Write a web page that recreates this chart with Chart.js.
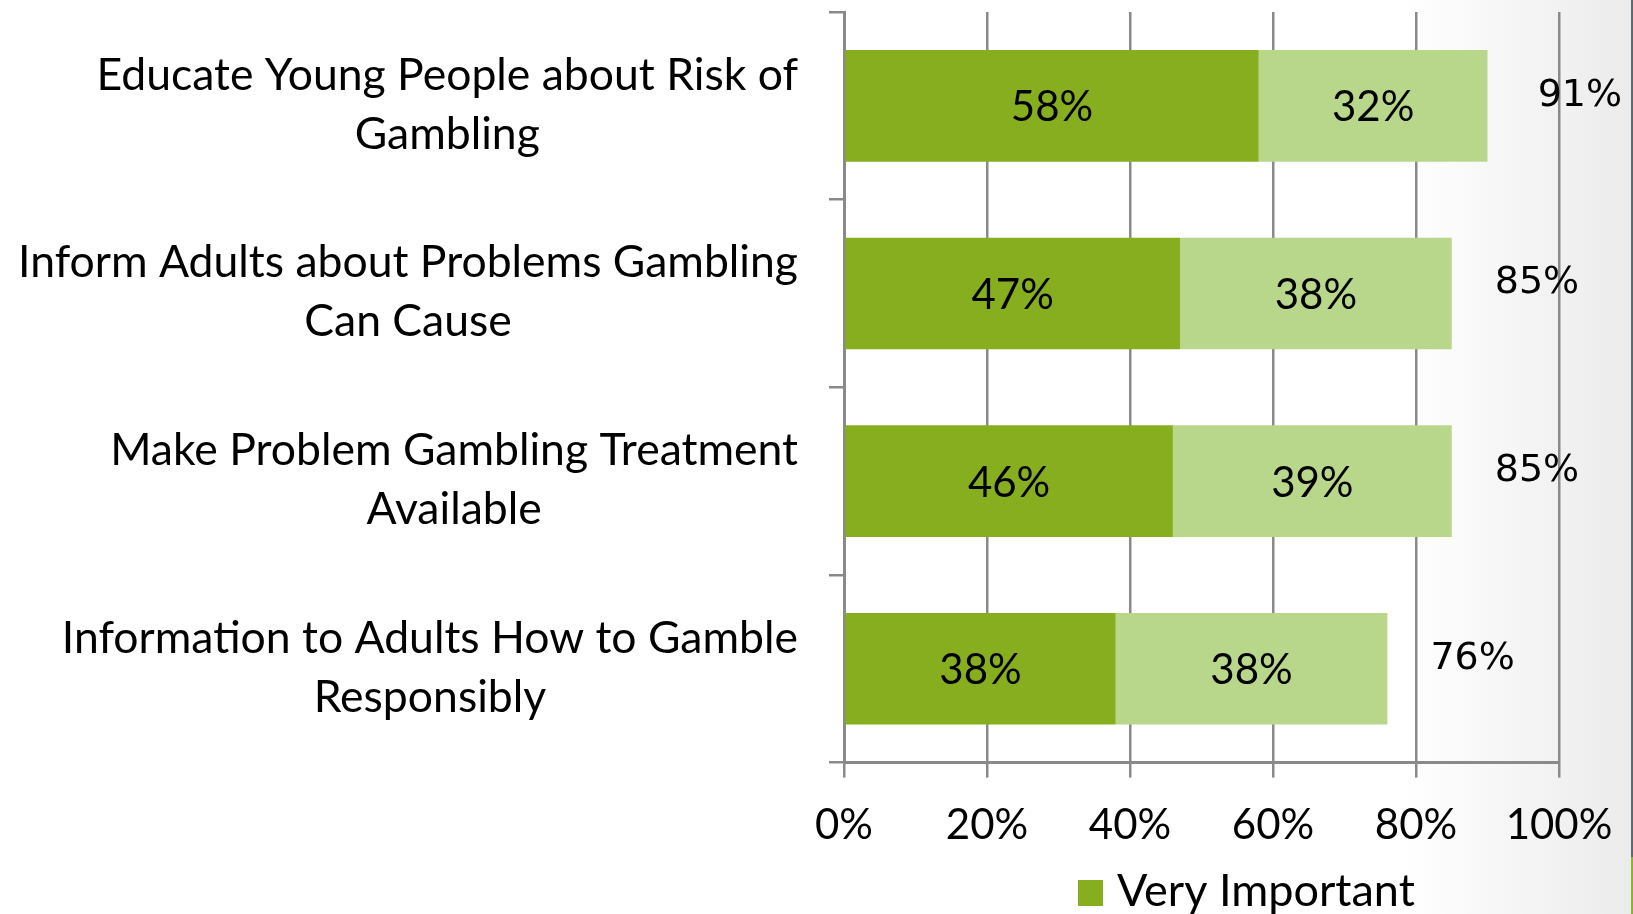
<!DOCTYPE html>
<html>
<head>
<meta charset="utf-8">
<title>Gambling awareness priorities</title>
<script src="https://cdn.jsdelivr.net/npm/chart.js@4.4.1/dist/chart.umd.min.js"></script>
<style>
  html, body { margin: 0; padding: 0; }
  body {
    width: 1633px;
    height: 914px;
    overflow: hidden;
    position: relative;
    background: linear-gradient(to right, #ffffff 0%, #ffffff 86%, #ebebeb 100%);
  }
  .chart-wrap { position: absolute; left: 0; top: 0; width: 1633px; height: 914px; }
  .edge-top { position: absolute; right: 0; top: 0; width: 2px; height: 857px; background: #5d6870; }
  .edge-bottom { position: absolute; right: 0; top: 857px; width: 2px; height: 57px; background: #8cb329; }
</style>
</head>
<body>
<div class="chart-wrap"><canvas id="myChart" width="1633" height="914"></canvas></div>
<div class="edge-top"></div>
<div class="edge-bottom"></div>
<script>
let categories = [
  ['Educate Young People about Risk of', 'Gambling'],
  ['Inform Adults about Problems Gambling', 'Can Cause'],
  ['Make Problem Gambling Treatment', 'Available'],
  ['Information to Adults How to Gamble', 'Responsibly']
];
let seriesNames = ['Very Important', 'Somewhat Important'];
let veryImportant = [58, 47, 46, 38];
let somewhatImportant = [32, 38, 39, 38];
let totals = [91, 85, 85, 76];
let xTicks = [0, 20, 40, 60, 80, 100];

const FONT = 'Lato, "Open Sans", sans-serif';
const GRID = '#8a8a8a';

// two-line category names, block right aligned, lines centred on each other
let categoryLabels = {
  id: 'categoryLabels',
  afterDraw(chart) {
    let ctx = chart.ctx;
    let yScale = chart.scales.y;
    let right = chart.chartArea.left - 46;
    let lineHeight = 59;
    ctx.save();
    ctx.font = '44.5px ' + FONT;
    ctx.fillStyle = '#000';
    ctx.textAlign = 'center';
    ctx.textBaseline = 'middle';
    categories.forEach((lines, i) => {
      let widest = Math.max(...lines.map(l => ctx.measureText(l).width));
      let cx = right - widest / 2;
      let cy = yScale.getPixelForValue(i) - 1;
      lines.forEach((line, j) => {
        ctx.fillText(line, cx, cy + (j - (lines.length - 1) / 2) * lineHeight);
      });
    });
    ctx.restore();
  }
};

let segmentLabels = {
  id: 'segmentLabels',
  afterDatasetsDraw(chart) {
    let ctx = chart.ctx;
    ctx.save();
    ctx.font = '42px ' + FONT;
    ctx.fillStyle = '#000';
    ctx.textAlign = 'center';
    ctx.textBaseline = 'middle';
    chart.data.datasets.forEach((ds, di) => {
      chart.getDatasetMeta(di).data.forEach((bar, i) => {
        let p = bar.getCenterPoint();
        ctx.fillText(ds.data[i] + '%', p.x, p.y + 2);
      });
    });
    ctx.restore();
  }
};

let totalLabels = {
  id: 'totalLabels',
  afterDatasetsDraw(chart) {
    let ctx = chart.ctx;
    let xScale = chart.scales.x;
    let yScale = chart.scales.y;
    ctx.save();
    ctx.font = '38px "DejaVu Sans", sans-serif';
    ctx.fillStyle = '#000';
    ctx.textAlign = 'left';
    ctx.textBaseline = 'middle';
    totals.forEach((t, i) => {
      ctx.fillText(t + '%', xScale.getPixelForValue(t) + 43, yScale.getPixelForValue(i) - 10);
    });
    ctx.restore();
  }
};

let legendBox = {
  id: 'legendBox',
  afterDraw(chart) {
    let ctx = chart.ctx;
    let ds = chart.data.datasets[0];
    ctx.save();
    ctx.fillStyle = ds.backgroundColor;
    ctx.fillRect(1078, 880, 25, 26);
    ctx.font = '45px ' + FONT;
    ctx.fillStyle = '#000';
    ctx.textAlign = 'left';
    ctx.textBaseline = 'alphabetic';
    ctx.fillText(ds.label, 1117, 906);
    ctx.restore();
  }
};

let ctx = document.getElementById('myChart').getContext('2d');
let chart = new Chart(ctx, {
  type: 'bar',
  data: {
    labels: categories,
    datasets: [
      {
        label: seriesNames[0],
        data: veryImportant,
        backgroundColor: '#87ae1f',
        categoryPercentage: 1,
        barPercentage: 0.595
      },
      {
        label: seriesNames[1],
        data: somewhatImportant,
        backgroundColor: '#b9d78b',
        categoryPercentage: 1,
        barPercentage: 0.595
      }
    ]
  },
  options: {
    indexAxis: 'y',
    responsive: false,
    animation: false,
    layout: { padding: { top: 12, right: 74, bottom: 40 } },
    plugins: {
      legend: { display: false },
      tooltip: { enabled: false }
    },
    scales: {
      x: {
        stacked: true,
        min: 0,
        max: 100,
        afterBuildTicks: axis => { axis.ticks = xTicks.map(v => ({ value: v })); },
        afterFit: axis => { axis.paddingRight = 0; },
        ticks: {
          callback: v => v + '%',
          color: '#000',
          font: { family: FONT, size: 42 },
          padding: 23
        },
        grid: { color: GRID, lineWidth: 2.5, tickLength: 15 },
        border: { color: GRID, width: 3 }
      },
      y: {
        stacked: true,
        ticks: { display: false },
        grid: { drawOnChartArea: false, color: GRID, lineWidth: 2.5, tickLength: 15, offset: true },
        border: { color: GRID, width: 3 },
        afterFit: scale => { scale.width = 844; }
      }
    }
  },
  plugins: [categoryLabels, segmentLabels, totalLabels, legendBox]
});
</script>
</body>
</html>
